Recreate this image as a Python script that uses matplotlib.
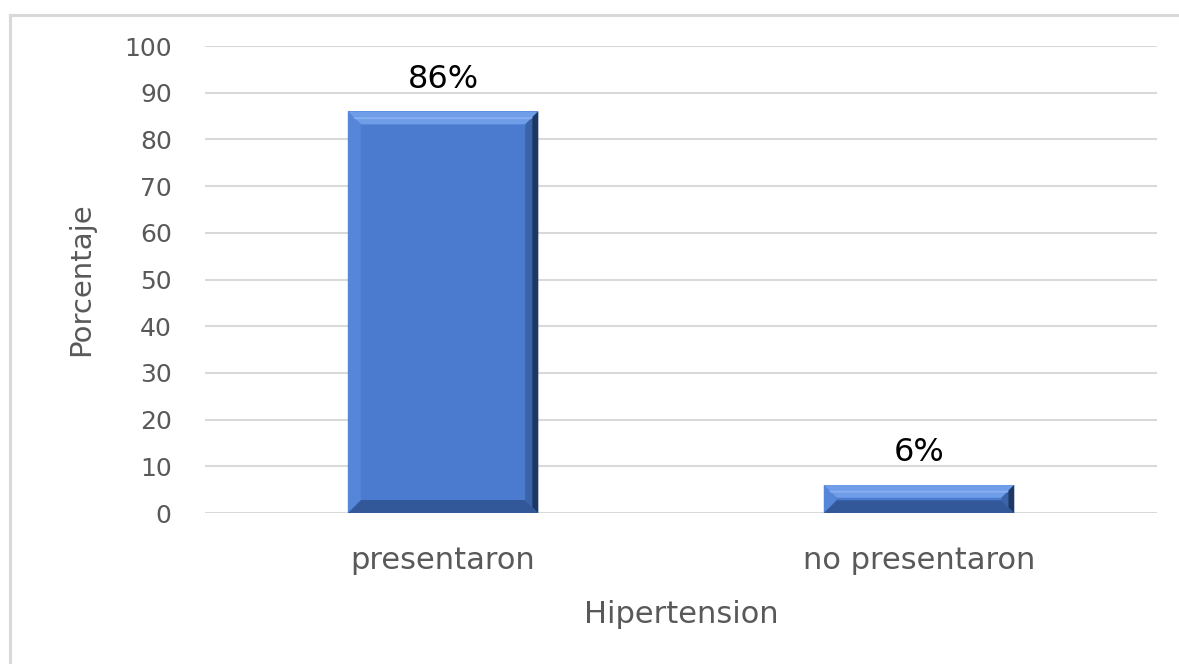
import matplotlib
matplotlib.use("Agg")
import matplotlib.pyplot as plt
from matplotlib.patches import Polygon
from matplotlib.lines import Line2D

categories = ["presentaron", "no presentaron"]
values = [86, 6]
value_labels = ["86%", "6%"]
y_ticks = [0, 10, 20, 30, 40, 50, 60, 70, 80, 90, 100]

text_color = "#595959"
grid_color = "#d9d9d9"
face_color = "#4a7bcf"

fig = plt.figure(figsize=(11.79, 6.64), dpi=100)
ax = fig.add_axes([0.1739, 0.2274, 0.9813 - 0.1739, 0.9307 - 0.2274])

x = range(len(categories))
bars = ax.bar(x, values, width=0.4, color=face_color, zorder=2)

ax.set_xlim(-0.5, 1.5)
ax.set_ylim(0, 100)
ax.set_yticks(y_ticks)
ax.set_xticks(list(x))
ax.set_xticklabels(categories)
ax.tick_params(axis="both", length=0, colors=text_color)
ax.tick_params(axis="y", pad=24, labelsize=18)
ax.tick_params(axis="x", pad=24, labelsize=22)
ax.yaxis.grid(True, color=grid_color, linewidth=1.5, zorder=0)
ax.set_axisbelow(True)
for s in ax.spines.values():
    s.set_visible(False)

ax.set_ylabel("Porcentaje", color=text_color, fontsize=21, labelpad=21)
ax.set_xlabel("Hipertension", color=text_color, fontsize=22, labelpad=18)

for b, lab in zip(bars, value_labels):
    ax.annotate(lab, (b.get_x() + b.get_width() / 2, b.get_height()),
                xytext=(0, 12), textcoords="offset points",
                ha="center", va="bottom", fontsize=23, color="black")

# bevel effect on each bar, built in pixel space from the bar rectangles
fig.canvas.draw()
for b in bars:
    (x0, y0), (x1, y1) = ax.transData.transform(
        [(b.get_x(), 0), (b.get_x() + b.get_width(), b.get_height())])
    bv = min(13, (y1 - y0) / 2.2)
    pieces = [
        ([(x0, y1), (x1, y1), (x1 - bv, y1 - bv), (x0 + bv, y1 - bv)], "#6f9de8"),
        ([(x0, y0), (x1, y0), (x1 - bv, y0 + bv), (x0 + bv, y0 + bv)], "#32589a"),
        ([(x0, y0), (x0 + bv, y0 + bv), (x0 + bv, y1 - bv), (x0, y1)], "#5586d8"),
        ([(x1, y0), (x1 - bv, y0 + bv), (x1 - bv, y1 - bv), (x1, y1)], "#3a63a8"),
        ([(x1 - bv * 0.45, y0 + bv * 0.45), (x1, y0), (x1, y1),
          (x1 - bv * 0.45, y1 - bv * 0.45)], "#1e3863"),
        ([(x0 + bv * 0.4, y1 - bv * 0.45), (x1 - bv * 0.4, y1 - bv * 0.45),
          (x1 - bv * 0.55, y1 - bv * 0.6), (x0 + bv * 0.55, y1 - bv * 0.6)], "#86b0f2"),
    ]
    for pts, col in pieces:
        fig.add_artist(Polygon(pts, closed=True, facecolor=col, edgecolor="none",
                               transform=None, zorder=3))

# chart area border (top and left visible)
W, H = fig.get_size_inches() * fig.dpi
fig.add_artist(Line2D([10 / W, 1], [1 - 15 / H, 1 - 15 / H], color=grid_color, lw=2.2))
fig.add_artist(Line2D([10 / W, 10 / W], [0, 1 - 15 / H], color=grid_color, lw=2.2))

fig.savefig("out.png", dpi=100)
